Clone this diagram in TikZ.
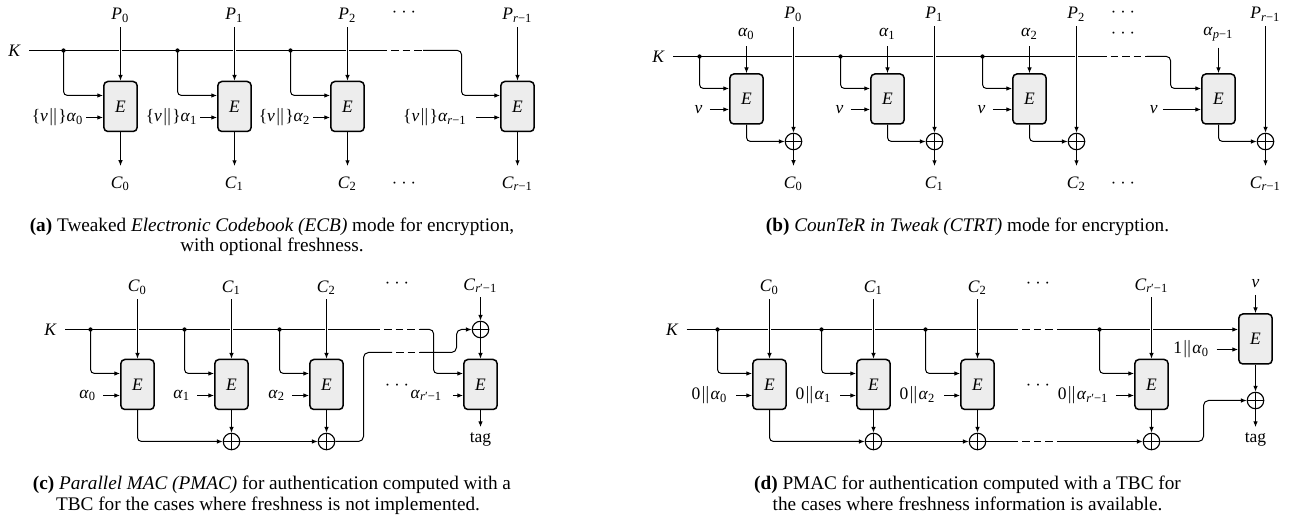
\documentclass[tikz,border=0pt]{standalone}
\usepackage{fontspec}
\setmainfont{Liberation Serif}
\usetikzlibrary{arrows.meta,calc}
\newcommand\mi[1]{\textit{#1}}
\newcommand\sbs[1]{\textsubscript{#1}}
\newcommand\lblfont{\fontsize{7}{8}\selectfont}
\newcommand\capfont{\fontsize{7.7}{9.2}\selectfont}
\newcommand\dbar{$\|$}
\tikzset{
  arr/.style={-{Latex[length=2.3pt,width=1.8pt]}},
  ebox/.style={draw, line width=0.6pt, fill=black!7, rounded corners=1.6pt,
    minimum width=13.3pt, minimum height=20pt, inner sep=0pt, font=\lblfont},
  lbl/.style={inner sep=0pt, font=\lblfont},
  xor/.style={circle, draw, line width=0.45pt, minimum size=6.6pt, inner sep=0pt,
    path picture={\draw[line width=0.45pt] (path picture bounding box.north) -- (path picture bounding box.south)
      (path picture bounding box.west) -- (path picture bounding box.east);}},
  kdot/.style={circle, fill, inner sep=0pt, minimum size=1.7pt},
  rc/.style={rounded corners=1.6pt},
  kgap/.style={white, line width=1.5pt},
  dsh/.style={dash pattern=on 3pt off 1.6pt, dash phase=3pt},
  captxt/.style={font=\capfont, inner sep=0pt, anchor=base},
}
\begin{document}
\begin{tikzpicture}[x=0.4pt,y=-0.4pt,line width=0.4pt]
\useasboundingbox (0,0) rectangle (1293,518);

%% ---------------- (a) ----------------
\node[lbl,anchor=east,inner xsep=3.1pt] (aK) at (29,50.5) {\mi{K}};
\foreach \i/\x in {0/120.5,1/234.5,2/347.5}{
  \node[ebox] (a\i) at (\x,106.5) {\mi{E}};
  \node[kdot] (ad\i) at (\x-57,50.5) {};
  \node[lbl] (ap\i) at (\x,15.3) {\mi{P}\sbs{\i}};
  \node[lbl] (ac\i) at (\x,183.6) {\mi{C}\sbs{\i}};
  \coordinate (as\i) at ($(a\i.west)+(-17,11)$);
  \node[lbl,anchor=east] (at\i) at ($(as\i)+(-2,0)$) {\{\mi{ν}\dbar\}\mi{α}\sbs{\i}};
}
\node[ebox] (a3) at (517.5,106.5) {\mi{E}};
\node[lbl] (ap3) at (517.5,15.3) {\mi{P}\sbs{\mi{r}−1}};
\node[lbl] (ac3) at (517.5,183.6) {\mi{C}\sbs{\mi{r}−1}};
\coordinate (as3) at ($(a3.west)+(-24,11)$);
\node[lbl,anchor=east] (at3) at ($(as3)+(-8.7,0)$) {\{\mi{ν}\dbar\}\mi{α}\sbs{\mi{r}−1}};
\node[lbl] (adt) at (404,12) {$\cdots$};
\node[lbl] (adb) at (404,183) {$\cdots$};
\coordinate (aD1) at (387,50.5);
\coordinate (aD2) at (423,50.5);
\coordinate (aCr) at (461.5,50.5);
\draw (aK.east) -- (aD1);
\draw[dsh] (aD1) -- (aD2);
\draw[arr,rc] (aD2) -- (aCr) |- ($(a3.west)+(0,-11)$);
\foreach \i in {0,1,2}{\draw[arr,rc] (ad\i.center) |- ($(a\i.west)+(0,-11)$);}
\foreach \i in {0,1,2}{\draw[kgap] ($(ap\i|-aD1)+(0,-2.2)$) -- ++(0,4.4);}
\foreach \i in {0,1,2,3}{
  \draw[arr,shorten <=1.8pt] (ap\i) -- (a\i);
  \draw[arr,shorten >=4pt] (a\i) -- (ac\i);
  \draw[arr] (as\i) -- (as\i -| a\i.west);
}

%% ---------------- (b) ----------------
\node[lbl,anchor=east,inner xsep=3.1pt] (bK) at (673,56.5) {\mi{K}};
\foreach \i/\x in {0/746.5,1/887.5,2/1029.5}{
  \node[ebox] (b\i) at (\x,99) {\mi{E}};
  \node[kdot] (bd\i) at (\x-47,56.5) {};
  \node[lbl] (ba\i) at (\x,34) {\mi{α}\sbs{\i}};
  \node[lbl] (bp\i) at (\x+47,14.5) {\mi{P}\sbs{\i}};
  \node[lbl] (bc\i) at (\x+47,183.6) {\mi{C}\sbs{\i}};
  \node[xor] (bx\i) at (\x+47,141.5) {};
  \coordinate (bs\i) at ($(b\i.west)+(-19.3,10.5)$);
  \node[lbl,anchor=east] (bn\i) at ($(bs\i)+(-7,0)$) {\mi{ν}};
}
\node[ebox] (b3) at (1218.5,99) {\mi{E}};
\node[lbl] (ba3) at (1218.5,34) {\mi{α}\sbs{\mi{p}−1}};
\node[lbl] (bp3) at (1265.5,14.5) {\mi{P}\sbs{\mi{r}−1}};
\node[lbl] (bc3) at (1265.5,183.6) {\mi{C}\sbs{\mi{r}−1}};
\node[xor] (bx3) at (1265.5,141.5) {};
\coordinate (bs3) at ($(b3.west)+(-38.3,10.5)$);
\node[lbl,anchor=east] (bn3) at ($(bs3)+(-4.8,0)$) {\mi{ν}};
\node[lbl] (bdt) at (1123,12) {$\cdots$};
\node[lbl] (bdm) at (1123,33) {$\cdots$};
\node[lbl] (bdb) at (1123,183) {$\cdots$};
\coordinate (bD1) at (1106.7,56.5);
\coordinate (bD2) at (1146.7,56.5);
\coordinate (bCr) at (1170.5,56.5);
\draw (bK.east) -- (bD1);
\draw[dsh] (bD1) -- (bD2);
\draw[arr,rc] (bD2) -- (bCr) |- ($(b3.west)+(0,-10.5)$);
\foreach \i in {0,1,2}{\draw[arr,rc] (bd\i.center) |- ($(b\i.west)+(0,-10.5)$);}
\foreach \i in {0,1,2}{\draw[kgap] ($(bp\i|-bD1)+(0,-2.2)$) -- ++(0,4.4);}
\foreach \i in {0,1,2,3}{
  \draw[arr,shorten <=1.8pt] (bp\i) -- (bx\i);
  \draw[arr,shorten <=2.6pt] (ba\i) -- (b\i);
  \draw[arr,rc] (b\i) |- (bx\i);
  \draw[arr,shorten >=4pt] (bx\i) -- (bc\i);
  \draw[arr] (bs\i) -- (bs\i -| b\i.west);
}

%% ---------------- (c) ----------------
\node[lbl,anchor=east,inner xsep=3.1pt] (cK) at (65,329.5) {\mi{K}};
\foreach \i/\x in {0/137.5,1/231.5,2/326.5}{
  \node[ebox] (c\i) at (\x,384.5) {\mi{E}};
  \node[kdot] (cd\i) at (\x-47,329.5) {};
  \node[lbl] (cc\i) at (\x,287.5) {\mi{C}\sbs{\i}};
  \coordinate (cs\i) at ($(c\i.west)+(-16.7,11)$);
  \node[lbl,anchor=east] (ca\i) at ($(cs\i)+(-6.5,0)$) {\mi{α}\sbs{\i}};
}
\node[ebox] (c3) at (480.5,384.5) {\mi{E}};
\node[lbl] (cc3) at (480.5,285.5) {\mi{C}\sbs{\mi{r}′−1}};
\coordinate (cs3) at ($(c3.west)+(-10.3,11)$);
\node[lbl,anchor=east] (ca3) at ($(cs3)+(-10,0)$) {\mi{α}\sbs{\mi{r}′−1}};
\node[xor] (cx1) at (231.5,441.5) {};
\node[xor] (cx2) at (326.5,441.5) {};
\node[xor] (cx3) at (480.5,329.5) {};
\node[lbl] (ctag) at (480.5,439.2) {tag};
\node[lbl] (cdt) at (397,283) {$\cdots$};
\node[lbl] (cdm) at (397,385) {$\cdots$};
\coordinate (cD1) at (380,329.5);
\coordinate (cD2) at (420,329.5);
\coordinate (cCr) at (433.5,329.5);
\draw (cK.east) -- (cD1);
\draw[dsh] (cD1) -- (cD2);
\draw[arr,rc] (cD2) -- (cCr) |- ($(c3.west)+(0,-11)$);
\foreach \i in {0,1,2}{\draw[arr,rc] (cd\i.center) |- ($(c\i.west)+(0,-11)$);}
\foreach \i in {0,1,2}{\draw[kgap] ($(cc\i|-cD1)+(0,-2.2)$) -- ++(0,4.4);}
\foreach \i in {0,1,2}{
  \draw[arr,shorten <=1.6pt] (cc\i) -- (c\i);
  \draw[arr] (cs\i) -- (cs\i -| c\i.west);
}
\draw[arr] (cs3) -- (cs3 -| c3.west);
\draw[arr,rc] (c0) |- (cx1);
\draw[arr] (c1) -- (cx1);
\draw[arr] (c2) -- (cx2);
\draw[arr] (cx1) -- (cx2);
\coordinate (cA) at (363.5,352.5);
\coordinate (cB) at (392,352.5);
\coordinate (cC) at (420,352.5);
\coordinate (cE) at (456.5,352.5);
\draw[rounded corners=2pt] (cx2.east) -| (cA) -- (cB);
\draw[dsh] (cB) -- (cC);
\draw[arr,rounded corners=2pt] (cC) -- (cE) |- (cx3);
\draw[arr,shorten <=1.6pt] (cc3) -- (cx3);
\draw[arr] (cx3) -- (c3);
\draw[arr,shorten >=1.9pt] (c3) -- (ctag);

%% ---------------- (d) ----------------
\node[lbl,anchor=east,inner xsep=3.1pt] (dK) at (686.7,329.5) {\mi{K}};
\foreach \i/\x in {0/769.5,1/873.5,2/977.5}{
  \node[ebox] (d\i) at (\x,384.5) {\mi{E}};
  \node[kdot] (dd\i) at (\x-52,329.5) {};
  \node[lbl] (dc\i) at (\x,287.5) {\mi{C}\sbs{\i}};
  \coordinate (ds\i) at ($(d\i.west)+(-16,11)$);
  \node[lbl,anchor=east] (da\i) at ($(ds\i)+(-8,0)$) {0\dbar\mi{α}\sbs{\i}};
}
\node[ebox] (d3) at (1151.5,384.5) {\mi{E}};
\node[kdot] (dd3) at (1099.5,329.5) {};
\node[lbl] (dc3) at (1151.5,285.5) {\mi{C}\sbs{\mi{r}′−1}};
\coordinate (ds3) at ($(d3.west)+(-18.3,11)$);
\node[lbl,anchor=east] (da3) at ($(ds3)+(-6.7,0)$) {0\dbar\mi{α}\sbs{\mi{r}′−1}};
\node[ebox] (d4) at (1255.5,339) {\mi{E}};
\node[lbl] (dnu) at (1255.5,283.5) {\mi{ν}};
\coordinate (ds4) at ($(d4.west)+(-21.6,10.5)$);
\node[lbl,anchor=east] (da4) at ($(ds4)+(-6.7,0)$) {1\dbar\mi{α}\sbs{0}};
\node[xor] (dx1) at (873.5,441.5) {};
\node[xor] (dx2) at (977.5,441.5) {};
\node[xor] (dx3) at (1151.5,441.5) {};
\node[xor] (dx4) at (1255.5,400.5) {};
\node[lbl] (dtag) at (1255.5,439.2) {tag};
\node[lbl] (ddt) at (1038,283) {$\cdots$};
\node[lbl] (ddm) at (1038,385) {$\cdots$};
\coordinate (dD1) at (1018.3,329.5);
\coordinate (dD2) at (1060,329.5);
\draw (dK.east) -- (dD1);
\draw[dsh] (dD1) -- (dD2);
\draw[arr] (dD2) -- (dD2 -| d4.west);
\foreach \i in {0,1,2,3}{\draw[arr,rc] (dd\i.center) |- ($(d\i.west)+(0,-11)$);}
\foreach \i in {0,1,2,3}{\draw[kgap] ($(dc\i|-dD1)+(0,-2.2)$) -- ++(0,4.4);}
\foreach \i in {0,1,2,3}{
  \draw[arr,shorten <=1.6pt] (dc\i) -- (d\i);
  \draw[arr] (ds\i) -- (ds\i -| d\i.west);
}
\draw[arr] (ds4) -- (ds4 -| d4.west);
\draw[arr,shorten <=2.7pt] (dnu) -- (d4);
\draw[arr,rc] (d0) |- (dx1);
\draw[arr] (d1) -- (dx1);
\draw[arr] (d2) -- (dx2);
\draw[arr] (d3) -- (dx3);
\draw[arr] (dx1) -- (dx2);
\coordinate (dE1) at (1018.3,441.5);
\coordinate (dE2) at (1060,441.5);
\coordinate (dF) at (1203.5,441.5);
\draw (dx2) -- (dE1);
\draw[dsh] (dE1) -- (dE2);
\draw[arr] (dE2) -- (dx3);
\draw[arr,rounded corners=2pt] (dx3) -- (dF) |- (dx4);
\draw[arr] (d4) -- (dx4);
\draw[arr,shorten >=1.9pt] (dx4) -- (dtag);

%% ---------------- captions ----------------
\node[captxt] (capa1) at (272,231.5) {\textbf{(a)} Tweaked \textit{Electronic Codebook (ECB)} mode for encryption,};
\node[captxt] (capa2) at (272,251.5) {with optional freshness.};
\node[captxt] (capb) at (967.5,231.5) {\textbf{(b)} \textit{CounTeR in Tweak (CTRT)} mode for encryption.};
\node[captxt] (capc1) at (272,490) {\makebox[191.2pt][s]{\textbf{(c)} \textit{Parallel MAC (PMAC)} for authentication computed with a}};
\node[captxt] (capc2) at (268,511) {TBC for the cases where freshness is not implemented.};
\node[captxt] (capd1) at (967.5,490) {\textbf{(d)} PMAC for authentication computed with a TBC for};
\node[captxt] (capd2) at (967.5,511) {the cases where freshness information is available.};
\end{tikzpicture}
\end{document}
